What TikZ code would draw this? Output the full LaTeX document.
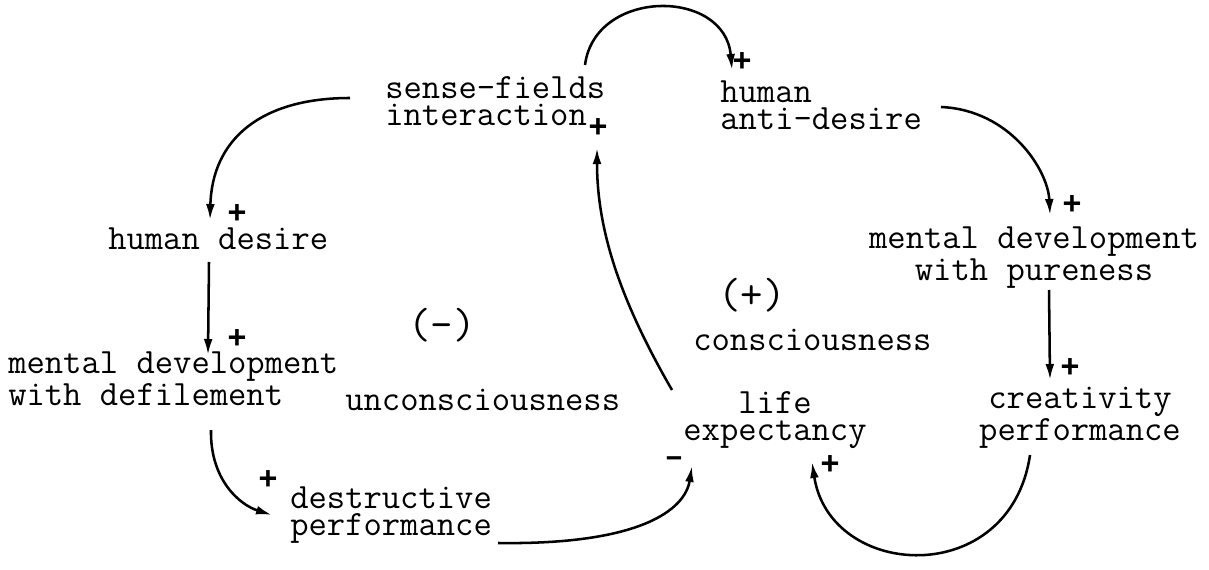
\documentclass[tikz,border=0pt]{standalone}
\usepackage{fontspec}
\newfontfamily\signfont{Liberation Mono}
\usetikzlibrary{arrows.meta,calc}

\begin{document}
\begin{tikzpicture}[
  x=0.025cm, y=-0.025cm,
  var/.style={
    font=\ttfamily\fontsize{25.3}{19.2}\selectfont,
    inner sep=0pt,
    anchor=base west,
    align=left
  },
  looplabel/.style={
    font=\ttfamily\fontsize{31}{19.2}\selectfont,
    inner sep=0pt
  },
  sign/.style={
    font=\signfont\bfseries\fontsize{23}{19}\selectfont,
    inner sep=0pt
  },
  link/.style={-{Latex[length=4mm,width=2.2mm]},line width=1.8pt}
]
  \useasboundingbox (0,0) rectangle (1209,570);

  % variables
  \node[var] (sense) at (385,126) {sense-fields\\interaction};
  \node[var] (anti) at (720,130) {human\\anti-desire};
  \node[var] (desire) at (108,250) {human desire};
  \node[var] (defile) at (8,405) {mental development\\with defilement};
  \node[var] (destr) at (290,535) {destructive\\performance};
  \node[var, anchor=base, align=center] (pure) at (1034,280) {mental development\\with pureness};
  \node[var, anchor=base, align=center] (creat) at (1080,440) {creativity\\performance};
  \node[var, anchor=base, align=center] (life) at (775,440) {life\\expectancy};

  % loop labels
  \node[looplabel] (neg) at (442,325) {(–)};
  \node[looplabel] (pos) at (752,295) {(+)};
  \node[var] (unconsc) at (345,410) {unconsciousness};
  \node[var] (consc) at (693,350) {consciousness};

  % polarities
  \node[sign] (p1) at (598,128) {+};
  \node[sign] (p2) at (742,62) {+};
  \node[sign] (p3) at (1072,205) {+};
  \node[sign] (p4) at (1070,368) {+};
  \node[sign] (p5) at (830,465) {+};
  \node[sign] (m1) at (674,462) {–};
  \node[sign] (p6) at (237,214) {+};
  \node[sign] (p7) at (237,339) {+};
  \node[sign] (p8) at (268,480) {+};

  % links
  \draw[link] ($(sense.base west)+(-35,-28)$) .. controls +(-90,0) and +(2,-80) .. ($(desire.base west)+(102,-30)$);
  \draw[link] ($(sense.base west)+(200,-61)$) .. controls +(10,-77) and +(-7,-82) .. ($(anti.base west)+(12,-60)$);
  \draw[link] ($(anti.base west)+(221,-23)$) .. controls +(69,3) and +(-2,-45) .. ($(pure.base)+(16,-65)$);
  \draw[link] ($(pure.base)+(15,10)$) -- ($(creat.base)+(-30,-60)$);
  \draw[link] ($(creat.base)+(-50,15)$) .. controls +(-20,135) and +(18,118) .. ($(life.base)+(37,22)$);
  \draw[link] ($(destr.base west)+(208,8)$) .. controls +(142,2) and +(-7,44) .. ($(life.base)+(-83,26)$);
  \draw[link] ($(life.base)+(-103,-50)$) .. controls +(-52,-90) and +(0,82) .. ($(sense.base west)+(212,22)$);
  \draw[link] ($(desire.base west)+(101,12)$) -- ($(defile.base west)+(200,-50)$);
  \draw[link] ($(defile.base west)+(203,25)$) .. controls +(-1,50) and +(-32,-10) .. ($(destr.base west)+(-18,-20)$);
\end{tikzpicture}
\end{document}
